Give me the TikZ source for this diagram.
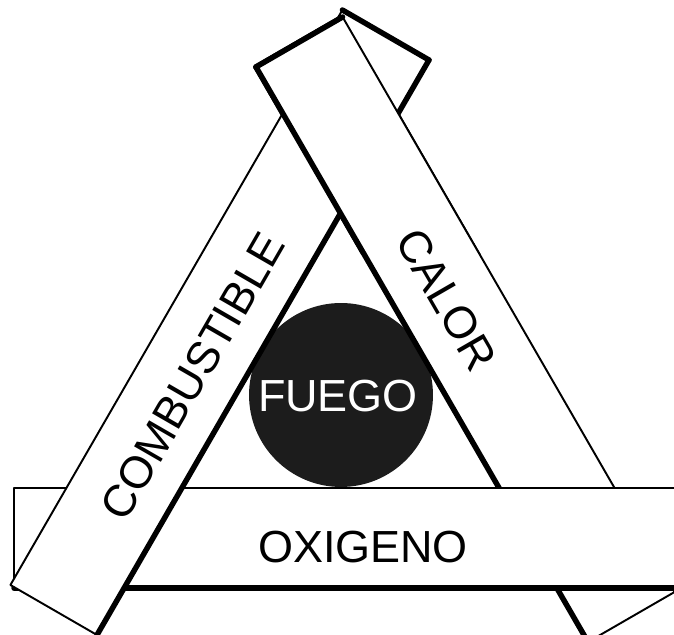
\documentclass[tikz,border=0pt]{standalone}
\usepackage{fontspec}
\setmainfont{Liberation Sans}
\usepackage{tkz-euclide}
\definecolor{FireClr}{RGB}{28,28,28}

\begin{document}
\begin{tikzpicture}[x=0.02cm,y=0.02cm]
\tkzSetUpLine[line width=1.1pt,color=black]
\tikzset{band label/.style={font=\fontsize{25.6}{30}\selectfont,inner sep=0pt}}

\clip (0,0) rectangle (674,635);

\tkzDefPoints{256/568/Ca1,342.6/618/Ca2,674.6/43/Ca3,588/-7/Ca4}
\tkzDefPoints{14/147/Ox1,678/147/Ox2,678/47/Ox3,14/47/Ox4}
\tkzDefPoints{342.4/625/Co1,429/575/Co2,97/0/Co3,10.4/50/Co4}
\tkzDefPoint(341,240){F}

\fill[FireClr] (F) circle[radius=1.84cm];

% calor
\tkzFillPolygon[fill=white](Ca1,Ca2,Ca3,Ca4)
\tkzDrawPolygon(Ca1,Ca2,Ca3,Ca4)
\tkzDrawSegments[line width=3.1pt](Ca1,Ca2 Ca1,Ca4)

% oxigeno
\tkzFillPolygon[fill=white](Ox1,Ox2,Ox3,Ox4)
\tkzDrawPolygon(Ox1,Ox2,Ox3,Ox4)
\tkzDrawSegments[line width=3.1pt](Ox4,Ox3 Ox3,Ox2)

% combustible
\tkzFillPolygon[fill=white](Co1,Co2,Co3,Co4)
\tkzDrawPolygon(Co1,Co2,Co3,Co4)
\tkzDrawSegments[line width=3.1pt](Co1,Co2 Co2,Co3)

% calor again on top
\begin{scope}
\clip (0,380) rectangle (674,635);
\tkzFillPolygon[fill=white](Ca1,Ca2,Ca3,Ca4)
\tkzDrawPolygon(Ca1,Ca2,Ca3,Ca4)
\tkzDrawSegments[line width=3.1pt](Ca1,Ca2 Ca1,Ca4)
\end{scope}

\node[band label,text=white] (fuego) at (338,239) {FUEGO};
\node[band label,rotate=60] (combustible) at (192.5,258.5) {COMBUSTIBLE};
\node[band label,rotate=-60] (calor) at (446.5,335.5) {CALOR};
\node[band label] (oxigeno) at (363,88) {OXIGENO};

\end{tikzpicture}
\end{document}
